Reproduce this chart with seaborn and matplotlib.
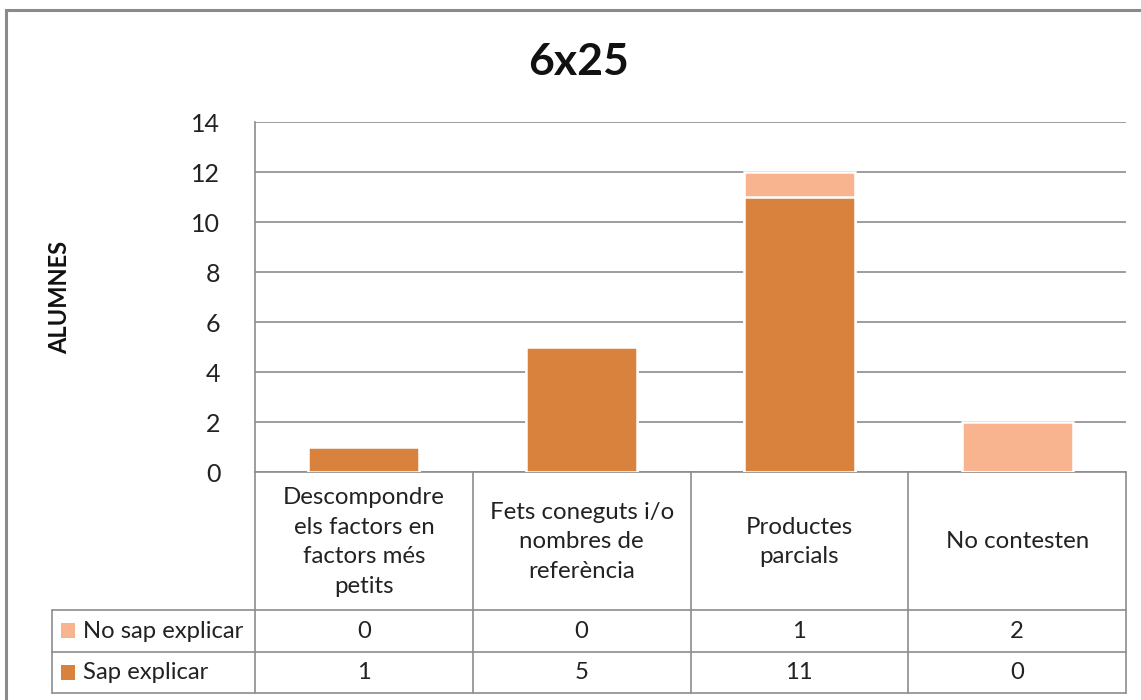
import matplotlib
matplotlib.use("Agg")
import matplotlib.pyplot as plt
import seaborn as sns
import numpy as np
from matplotlib.lines import Line2D
from matplotlib.patches import Rectangle
import matplotlib.transforms as mtransforms

categories = ["Descompondre\nels factors en\nfactors més\npetits",
              "Fets coneguts i/o\nnombres de\nreferència",
              "Productes\nparcials",
              "No contesten"]
series_names = ["No sap explicar", "Sap explicar"]
no_sap = [0, 0, 1, 2]
sap = [1, 5, 11, 0]
yticks = [0, 2, 4, 6, 8, 10, 12, 14]

dark = "#D9823D"
light = "#F8B48F"
gridc = "#8C8C8C"
txt = "#222222"

sns.set_theme(style="white")
plt.rcParams['font.family'] = ['Lato', 'DejaVu Sans']

W, H = 1141, 700
fig = plt.figure(figsize=(W / 100, H / 100), dpi=100)

def fx(px):
    return px / W

def fy(py):
    return (H - py) / H

L, R, T, B = 255, 1126, 122, 472
ax = fig.add_axes([fx(L), fy(B), fx(R) - fx(L), fy(T) - fy(B)])

totals = [a + b for a, b in zip(no_sap, sap)]
sns.barplot(x=list(range(4)), y=totals, color=light, saturation=1, width=0.51,
            edgecolor="white", linewidth=1.8, ax=ax, zorder=3)
sns.barplot(x=list(range(4)), y=sap, color=dark, saturation=1, width=0.51,
            edgecolor="white", linewidth=1.8, ax=ax, zorder=4)

ax.set_xlim(-0.5, 3.5)
ax.set_ylim(0, 14)
ax.set_yticks(yticks)
ax.set_yticklabels([str(t) for t in yticks], fontsize=18, color=txt)
ax.tick_params(axis="y", length=0, pad=25)
ax.set_xticks([])
ax.set_xlabel("")
ax.set_ylabel("")
ax.yaxis.grid(True, color=gridc, linewidth=1.2, zorder=0)
ax.set_axisbelow(True)
for s in ["top", "right"]:
    ax.spines[s].set_visible(False)
for s in ["left", "bottom"]:
    ax.spines[s].set_color(gridc)
    ax.spines[s].set_linewidth(1.2)

# Table below the axes
lw = 1.2
trans = mtransforms.blended_transform_factory(ax.transData, fig.transFigure)
row1, row2, row3 = 610, 652, 693
for xb in [-0.5, 0.5, 1.5, 2.5, 3.5]:
    fig.add_artist(Line2D([xb, xb], [fy(B), fy(row3)], transform=trans,
                          color=gridc, linewidth=lw))
for yy in [row1, row2, row3]:
    fig.add_artist(Line2D([fx(52), fx(R)], [fy(yy), fy(yy)],
                          transform=fig.transFigure, color=gridc, linewidth=lw))
fig.add_artist(Line2D([fx(52), fx(52)], [fy(row1), fy(row3)],
                      transform=fig.transFigure, color=gridc, linewidth=lw))

# category labels
for i, c in enumerate(categories):
    fig.text(i, fy((B + row1) / 2 + 1), c, transform=trans, ha="center",
             va="center", fontsize=17.3, color=txt, linespacing=1.52)

# data rows
rows = [(no_sap, light, (row1 + row2) / 2), (sap, dark, (row2 + row3) / 2)]
for (vals, col, yc), name in zip(rows, series_names):
    fig.add_artist(Rectangle((fx(61), fy(yc + 7)), fx(14), 15 / H,
                             transform=fig.transFigure, facecolor=col,
                             edgecolor="none"))
    fig.text(fx(83), fy(yc), name, ha="left", va="center", fontsize=17.2,
             color=txt)
    for i, v in enumerate(vals):
        fig.text(i, fy(yc), str(v), transform=trans, ha="center", va="center",
                 fontsize=17.2, color=txt)

# title and y-label
fig.text(fx(579), fy(62), "6x25", ha="center", va="center", fontsize=32,
         fontweight="bold", color="#111111")
fig.text(fx(60), fy(297), "ALUMNES", ha="center", va="center", rotation=90,
         fontsize=17, fontweight="bold", color="#111111")

# outer border
fig.add_artist(Rectangle((fx(6), fy(705)), fx(1150) - fx(6), (705 - 10) / H,
                         transform=fig.transFigure, facecolor="none",
                         edgecolor="#8A8A8A", linewidth=2.2))

fig.savefig("out.png", dpi=100)
